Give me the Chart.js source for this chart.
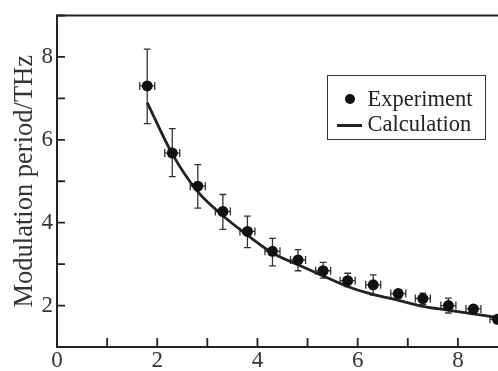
<!DOCTYPE html>
<html><head><meta charset="utf-8">
<script src="https://cdn.jsdelivr.net/npm/chart.js@4/dist/chart.umd.min.js"></script>
<style>
html,body{margin:0;padding:0;background:#fff;}
#wrap{position:relative;width:498px;height:371px;overflow:hidden;}
#legend{position:absolute;left:327px;top:75px;width:157px;height:63px;border:1.5px solid #333;font-family:"Liberation Serif","Times New Roman",serif;font-size:22.5px;color:#222;box-sizing:content-box;}
.row{position:absolute;white-space:nowrap;line-height:22px;}
</style></head><body>
<div id="wrap"><canvas id="c" width="498" height="371"></canvas><div id="legend"></div></div>
<script>
// ---- data ----
const expX     = [1.80, 2.30, 2.81, 3.31, 3.80, 4.30, 4.81, 5.31, 5.80, 6.31, 6.81, 7.30, 7.81, 8.31, 8.79];
const expY     = [7.30, 5.68, 4.88, 4.27, 3.79, 3.31, 3.10, 2.84, 2.60, 2.50, 2.29, 2.17, 2.00, 1.92, 1.67];
const expYLow  = [6.39, 5.11, 4.35, 3.84, 3.40, 2.96, 2.84, 2.66, 2.46, 2.25, 2.18, 2.03, 1.82, 1.85, 1.62];
const expYHigh = [8.19, 6.27, 5.40, 4.68, 4.16, 3.62, 3.35, 3.04, 2.78, 2.74, 2.37, 2.30, 2.18, 2.00, 1.72];
const expXErr  = [0.15, 0.15, 0.15, 0.15, 0.15, 0.15, 0.15, 0.15, 0.15, 0.15, 0.15, 0.15, 0.15, 0.15, 0.15];
const calcX    = [1.8, 2.3, 2.8, 3.3, 3.8, 4.3, 4.8, 5.3, 5.8, 6.3, 6.8, 7.3, 7.8, 8.3, 8.8];
const calcY    = [6.90, 5.66, 4.76, 4.18, 3.70, 3.27, 2.99, 2.72, 2.46, 2.27, 2.13, 1.98, 1.89, 1.80, 1.71];
const seriesNames = ['Experiment', 'Calculation'];
const xTickValues = [0, 1, 2, 3, 4, 5, 6, 7, 8];
const xTickLabels = ['0', '2', '4', '6', '8'];
const yTickValues = [1, 2, 3, 4, 5, 6, 7, 8, 9];
const yTickLabels = ['2', '4', '6', '8'];
const yTitle = 'Modulation period/THz';

const FONT = '"Liberation Serif","Times New Roman",serif';
const INK = '#222';

const errorBars = {
  id: 'errorBars',
  beforeDatasetsDraw(chart) {
    const {ctx, scales: {x, y}} = chart;
    ctx.save();
    ctx.strokeStyle = '#333';
    ctx.lineWidth = 1.3;
    ctx.beginPath();
    for (let i = 0; i < expX.length; i++) {
      const px = x.getPixelForValue(expX[i]);
      const py = y.getPixelForValue(expY[i]);
      const yl = y.getPixelForValue(expYLow[i]);
      const yh = y.getPixelForValue(expYHigh[i]);
      const xl = x.getPixelForValue(expX[i] - expXErr[i]);
      const xh = x.getPixelForValue(expX[i] + expXErr[i]);
      ctx.moveTo(px, yl); ctx.lineTo(px, yh);
      ctx.moveTo(px - 3.4, yl); ctx.lineTo(px + 3.4, yl);
      ctx.moveTo(px - 3.4, yh); ctx.lineTo(px + 3.4, yh);
      ctx.moveTo(xl, py); ctx.lineTo(xh, py);
      ctx.moveTo(xl, py - 4); ctx.lineTo(xl, py + 4);
      ctx.moveTo(xh, py - 4); ctx.lineTo(xh, py + 4);
    }
    ctx.stroke();
    ctx.restore();
  }
};

const innerTicks = {
  id: 'innerTicks',
  afterDraw(chart) {
    const {ctx, chartArea: a, scales: {x, y}} = chart;
    ctx.save();
    ctx.strokeStyle = INK;
    ctx.lineWidth = 1.8;
    ctx.beginPath();
    xTickValues.forEach(v => { const p = x.getPixelForValue(v); ctx.moveTo(p, a.bottom); ctx.lineTo(p, a.bottom - 9); });
    yTickValues.forEach(v => { const p = y.getPixelForValue(v); ctx.moveTo(a.left, p); ctx.lineTo(a.left + 8, p); });
    ctx.stroke();
    ctx.lineWidth = 2;
    ctx.beginPath();
    ctx.moveTo(a.left - 1, a.top); ctx.lineTo(a.right + 2, a.top);
    ctx.stroke();
    ctx.restore();
  }
};

const chart = new Chart(document.getElementById('c'), {
  type: 'scatter',
  data: {
    datasets: [
      {
        label: seriesNames[0],
        data: expX.map((v, i) => ({x: v, y: expY[i]})),
        showLine: false,
        pointRadius: 5.5,
        pointHoverRadius: 5.5,
        backgroundColor: '#111',
        borderColor: '#111',
        borderWidth: 0,
        order: 0
      },
      {
        label: seriesNames[1],
        data: calcX.map((v, i) => ({x: v, y: calcY[i]})),
        showLine: true,
        pointRadius: 0,
        borderColor: INK,
        borderWidth: 2.8,
        cubicInterpolationMode: 'monotone',
        order: 1
      }
    ]
  },
  options: {
    responsive: false,
    animation: false,
    devicePixelRatio: 1,
    layout: {autoPadding: false, padding: {top: 13, right: 0, left: 0, bottom: 0}},
    plugins: {legend: {display: false}, tooltip: {enabled: false}},
    scales: {
      x: {
        type: 'linear', min: 0, max: 8.8,
        grid: {display: true, drawOnChartArea: false, drawTicks: false},
        border: {display: true, color: INK, width: 2},
        afterFit: s => { s.height = 24; },
        ticks: {
          stepSize: 1, includeBounds: false, autoSkip: false, maxRotation: 0,
          padding: 2, color: '#333',
          font: {family: FONT, size: 23, lineHeight: 1},
          callback: v => xTickLabels.includes(String(v)) ? String(v) : ''
        }
      },
      y: {
        type: 'linear', min: 1, max: 9,
        grid: {display: true, drawOnChartArea: false, drawTicks: false},
        border: {display: true, color: INK, width: 2},
        afterFit: s => { s.width = 57; },
        ticks: {
          stepSize: 1, includeBounds: false, autoSkip: false,
          padding: 4, color: '#333',
          font: {family: FONT, size: 23, lineHeight: 1},
          callback: v => yTickLabels.includes(String(v)) ? String(v) : ''
        },
        title: {
          display: true, text: yTitle, align: 'center', color: '#333',
          font: {family: FONT, size: 26.5, lineHeight: 1.2},
          padding: {top: 9, bottom: 0}
        }
      }
    }
  },
  plugins: [errorBars, innerTicks]
});

// HTML legend built from the dataset labels
const lg = document.getElementById('legend');
chart.data.datasets.forEach((ds, i) => {
  const row = document.createElement('div');
  row.className = 'row';
  row.style.left = '39.5px';
  row.style.top = (i === 0 ? 11.5 : 36.5) + 'px';
  row.textContent = ds.label;
  lg.appendChild(row);
  const mk = document.createElement('div');
  mk.style.position = 'absolute';
  if (i === 0) {
    mk.style.left = '16.5px'; mk.style.top = '17.5px';
    mk.style.width = '10px'; mk.style.height = '10px';
    mk.style.borderRadius = '50%'; mk.style.background = '#111';
  } else {
    mk.style.left = '8.5px'; mk.style.top = '48px';
    mk.style.width = '25px'; mk.style.height = '2.5px';
    mk.style.background = INK;
  }
  lg.appendChild(mk);
});
</script>
</body></html>
